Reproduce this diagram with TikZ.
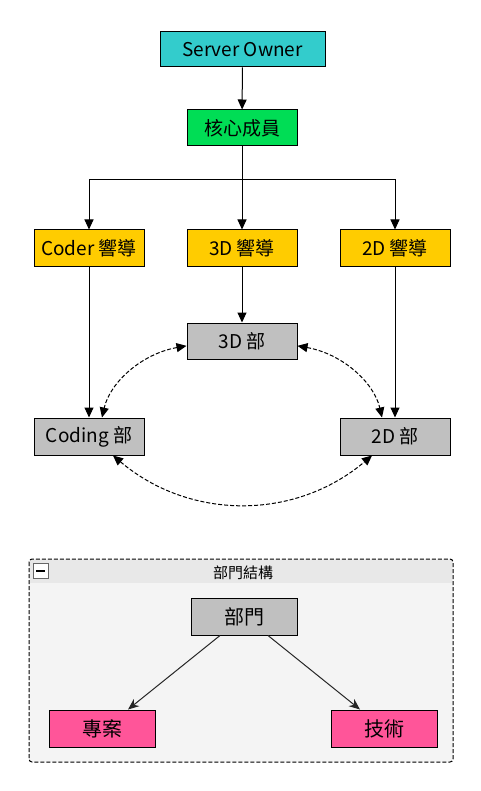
\documentclass[tikz,border=0pt]{standalone}
\usepackage{fontspec}
\setmainfont{Noto Sans CJK TC}
\usetikzlibrary{arrows.meta}
\definecolor{ownercyan}{HTML}{33CCCC}
\definecolor{coregreen}{HTML}{00DD55}
\definecolor{leadyellow}{HTML}{FFCC00}
\definecolor{deptgray}{HTML}{C0C0C0}
\definecolor{subpink}{HTML}{FF5599}
\definecolor{groupbody}{HTML}{F4F4F4}
\definecolor{grouphead}{HTML}{E8E8E8}

\begin{document}
\begin{tikzpicture}[x=1pt,y=-1pt, line width=1pt,
  box/.style={draw=black, minimum width=110pt, minimum height=36pt, inner sep=0pt, font=\fontsize{19}{22}\selectfont},
  arr/.style={-{Triangle[length=10pt,width=9pt]}},
  dasharr/.style={dashed, dash pattern=on 4pt off 2pt, {Triangle[length=10pt,width=9pt]}-{Triangle[length=10pt,width=9pt]}},
  subarr/.style={draw=black!85, -{Stealth[length=11pt,width=9pt]}}]
\useasboundingbox (0,0) rectangle (480,791);

%% chain of command
\node[box, fill=ownercyan, minimum width=165pt, minimum height=35pt] (owner) at (242.5,49.5) {Server Owner};
\node[box, fill=coregreen] (core) at (242,128) {核心成員};
\node[box, fill=leadyellow] (codelead) at (89,248) {Coder 響導};
\node[box, fill=leadyellow] (threelead) at (242,248) {3D 響導};
\node[box, fill=leadyellow] (twolead) at (395,248) {2D 響導};
\node[box, fill=deptgray] (threedept) at (242,341) {3D 部};
\node[box, fill=deptgray, minimum height=37pt] (coding) at (89,436.5) {Coding 部};
\node[box, fill=deptgray, minimum height=37pt] (twodept) at (395,436.5) {2D 部};

\coordinate (split) at (242,180);
\draw[arr] (owner) -- (core);
\draw (core) -- (split);
\draw[arr] (split) -| (codelead.north);
\draw[arr] (split) -| (twolead.north);
\draw[arr] (split) -- (threelead);
\draw[arr] (codelead) -- (coding);
\draw[arr] (threelead) -- (threedept);
\draw[arr] (twolead) -- (twodept);

%% links between departments
\draw[dasharr] (threedept.185) .. controls +(-45,8) and +(8,-35) .. ([xshift=13pt]coding.north);
\draw[dasharr] (threedept.355) .. controls +(45,8) and +(-8,-35) .. ([xshift=-13pt]twodept.north);
\draw[dasharr] ([xshift=24pt]coding.south) .. controls +(77,65) and +(-77,65) .. ([xshift=-23pt]twodept.south);

%% legend group
\fill[groupbody, rounded corners=3pt] (29,559) rectangle (453,762);
\fill[grouphead] (30,560) rectangle (452,583);
\draw[dashed, dash pattern=on 4pt off 2pt, rounded corners=3pt] (29,559) rectangle (453,762);
\node[draw=black!60, fill=white, minimum size=15pt, inner sep=0pt] (fold) at (40.5,570.5) {};
\draw[line width=2pt] ([xshift=-4.5pt]fold.center) -- ([xshift=4.5pt]fold.center);
\node[font=\fontsize{15}{17}\selectfont] (grouptitle) at (243,573) {部門結構};

\node[box, fill=deptgray, minimum width=106pt, minimum height=37pt, font=\fontsize{20}{23}\selectfont] (dept) at (244,616.5) {部門};
\node[box, fill=subpink, minimum width=106pt, minimum height=37pt, font=\fontsize{20}{23}\selectfont] (project) at (102,728.5) {專案};
\node[box, fill=subpink, minimum width=106pt, minimum height=37pt, font=\fontsize{20}{23}\selectfont] (tech) at (384,728.5) {技術};
\draw[subarr] ([xshift=-24pt]dept.south) -- ([xshift=26pt]project.north);
\draw[subarr] ([xshift=24pt]dept.south) -- ([xshift=-24pt]tech.north);
\end{tikzpicture}
\end{document}
